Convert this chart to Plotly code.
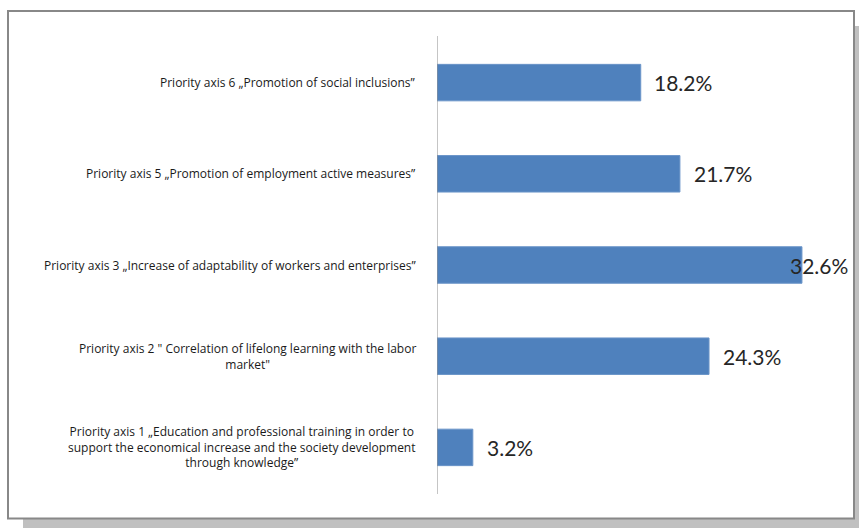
import plotly.graph_objects as go

# Operational programme priority axes and their share of the allocation (%)
categories = [
    "Priority axis 1 „Education and professional training in order to<br>"
    "support the economical increase and the society development<br>"
    "through knowledge”",
    "Priority axis 2 \" Correlation of lifelong learning with the labor<br>market\"",
    "Priority axis 3 „Increase of adaptability of workers and enterprises”",
    "Priority axis 5 „Promotion of employment active measures”",
    "Priority axis 6 „Promotion of social inclusions”",
]
shares = [3.2, 24.3, 32.6, 21.7, 18.2]
value_labels = ["3.2%", "24.3%", "32.6%", "21.7%", "18.2%"]

W, H = 859, 528
L, R, T, B = 437, 19, 37, 35
X_MAX = 36.0
pw, ph = W - L - R, H - T - B


def px_x(p):
    return (p - L) / pw


def px_y(p):
    return 1 - (p - T) / ph


keys = list(range(len(categories)))

fig = go.Figure()
fig.add_trace(go.Bar(
    x=shares,
    y=keys,
    orientation="h",
    marker=dict(color="#4F81BD", line=dict(color="#6A94C8", width=1)),
    width=0.4,
    hoverinfo="skip",
))

shapes = [
    # drop shadow behind the chart frame
    dict(type="rect", xref="paper", yref="paper", layer="below",
         x0=px_x(23), x1=px_x(875), y0=px_y(26), y1=px_y(540),
         fillcolor="#C0C0C0", line=dict(width=0)),
    # white chart frame
    dict(type="rect", xref="paper", yref="paper", layer="below",
         x0=px_x(8), x1=px_x(854), y0=px_y(11), y1=px_y(518.5),
         fillcolor="white", line=dict(color="#888888", width=2)),
    # category axis line
    dict(type="line", xref="x", yref="paper", x0=0, x1=0,
         y0=px_y(494), y1=px_y(36), line=dict(color="#8C8C8C", width=1)),
]

annotations = []
for k, cat in zip(keys, categories):
    annotations.append(dict(
        x=0, y=k, xref="x", yref="y", text=cat, showarrow=False,
        xanchor="right", yanchor="middle", xshift=-19, align="center",
        font=dict(family="Open Sans, Calibri, sans-serif", size=12, color="#1A1A1A"),
    ))

label_limit = X_MAX * 0.87
for k, v, t in zip(keys, shares, value_labels):
    annotations.append(dict(
        x=min(v + 1.05, label_limit), y=k, xref="x", yref="y", text=t,
        showarrow=False, xanchor="left", yanchor="middle",
        font=dict(family="Lato, Calibri, sans-serif", size=21, color="#262626"),
    ))

fig.update_layout(
    width=W, height=H,
    margin=dict(l=L, r=R, t=T, b=B, pad=0),
    paper_bgcolor="white",
    plot_bgcolor="rgba(0,0,0,0)",
    showlegend=False,
    shapes=shapes,
    annotations=annotations,
    xaxis=dict(range=[0, X_MAX], visible=False, fixedrange=True),
    yaxis=dict(range=[-0.5, len(categories) - 0.5], visible=False, fixedrange=True),
)

fig.write_html("out.html")
